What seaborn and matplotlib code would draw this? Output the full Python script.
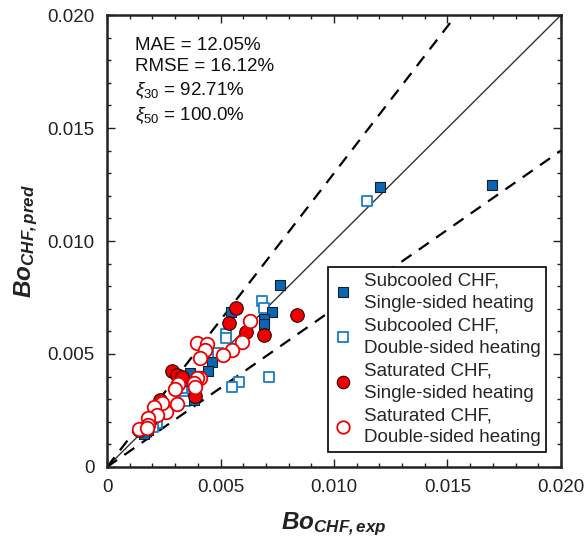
import numpy as np
import pandas as pd
import seaborn as sns
import matplotlib
matplotlib.use("Agg")
import matplotlib.pyplot as plt
from matplotlib.ticker import MultipleLocator, FuncFormatter
from matplotlib.lines import Line2D

sns.set_theme(style="ticks")
plt.rcParams['font.family'] = ['Liberation Sans', 'DejaVu Sans']
plt.rcParams['mathtext.fontset'] = 'custom'
plt.rcParams['mathtext.rm'] = 'Liberation Sans'
plt.rcParams['mathtext.it'] = 'Liberation Sans:italic'
plt.rcParams['mathtext.bf'] = 'Liberation Sans:bold'
plt.rcParams['mathtext.bfit'] = 'Liberation Sans:bold:italic'

# ---- data ----
sub_single_exp = [0.01696, 0.01203, 0.00762, 0.00546, 0.00727, 0.00692, 0.00692, 0.00463,
                  0.00445, 0.00366, 0.00383, 0.00330, 0.00163, 0.00180]
sub_single_pred = [0.01248, 0.01239, 0.00805, 0.00686, 0.00686, 0.00655, 0.00633, 0.00465,
                   0.00425, 0.00416, 0.00296, 0.00380, 0.00146, 0.00165]

sub_double_exp = [0.01145, 0.00683, 0.00692, 0.00524, 0.00524, 0.00489, 0.00714, 0.00581,
                  0.00551, 0.00335, 0.00344, 0.00330, 0.00220, 0.00203, 0.00167]
sub_double_pred = [0.01177, 0.00735, 0.00704, 0.00588, 0.00571, 0.00504, 0.00398, 0.00376,
                   0.00354, 0.00319, 0.00292, 0.00350, 0.00195, 0.00177, 0.00155]

sat_single_exp = [0.00837, 0.00568, 0.00537, 0.00612, 0.00692, 0.00286, 0.00308, 0.00330,
                  0.00388, 0.00233, 0.00141, 0.00190]
sat_single_pred = [0.00673, 0.00704, 0.00637, 0.00597, 0.00584, 0.00425, 0.00407, 0.00398,
                   0.00314, 0.00296, 0.00164, 0.00208]

sat_double_exp = [0.00630, 0.00595, 0.00550, 0.00511, 0.00396, 0.00441, 0.00432, 0.00410,
                  0.00410, 0.00396, 0.00383, 0.00313, 0.00300, 0.00308, 0.00260, 0.00242,
                  0.00207, 0.00220, 0.00181, 0.00181, 0.00141, 0.00176, 0.00388]
sat_double_pred = [0.00646, 0.00553, 0.00518, 0.00496, 0.00549, 0.00544, 0.00518, 0.00482,
                   0.00394, 0.00394, 0.00372, 0.00367, 0.00345, 0.00279, 0.00243, 0.00283,
                   0.00265, 0.00230, 0.00217, 0.00186, 0.00168, 0.00173, 0.00354]

labels = ["Subcooled CHF,\nSingle-sided heating",
          "Subcooled CHF,\nDouble-sided heating",
          "Saturated CHF,\nSingle-sided heating",
          "Saturated CHF,\nDouble-sided heating"]

stats_text = ["MAE = 12.05%", "RMSE = 16.12%",
              r"$\xi_{\mathit{30}}$ = 92.71%", r"$\xi_{\mathit{50}}$ = 100.0%"]

lim = 0.020
band = 0.30

fig = plt.figure(figsize=(5.87, 5.40), dpi=100)
ax = fig.add_axes([0.1823, 0.1352, 0.7734, 0.8370])

# reference lines
xs = np.array([0.0, lim])
ax.plot(xs, xs, color='#333333', lw=1.0, zorder=1)
ax.plot(xs, xs * (1 + band), color='black', lw=1.6, ls=(0, (5.5, 4)), zorder=1)
ax.plot(xs, xs * (1 - band), color='black', lw=1.6, ls=(0, (5.5, 4)), zorder=1)

blue = '#0a66b0'
blue_open = '#1a7ccc'
red = '#ee0000'

def df(x, y):
    return pd.DataFrame({'x': x, 'y': y})

sns.scatterplot(data=df(sub_double_exp, sub_double_pred), x='x', y='y', ax=ax, marker='s',
                s=48, facecolor='white', edgecolor=blue_open, linewidth=1.3, zorder=3)
sns.scatterplot(data=df(sub_single_exp, sub_single_pred), x='x', y='y', ax=ax, marker='s',
                s=52, color=blue, edgecolor='#102030', linewidth=0.8, zorder=3)
sns.scatterplot(data=df(sat_single_exp, sat_single_pred), x='x', y='y', ax=ax, marker='o',
                s=95, color=red, edgecolor='#300000', linewidth=0.8, zorder=4)
sns.scatterplot(data=df(sat_double_exp, sat_double_pred), x='x', y='y', ax=ax, marker='o',
                s=95, facecolor='white', edgecolor=red, linewidth=1.3, zorder=4)

ax.set_xlim(0, lim)
ax.set_ylim(0, lim)
ax.xaxis.set_major_locator(MultipleLocator(0.005))
ax.yaxis.set_major_locator(MultipleLocator(0.005))
ax.xaxis.set_minor_locator(MultipleLocator(0.001))
ax.yaxis.set_minor_locator(MultipleLocator(0.001))
fmt = FuncFormatter(lambda v, p: "0" if abs(v) < 1e-12 else f"{v:.3f}")
ax.xaxis.set_major_formatter(fmt)
ax.yaxis.set_major_formatter(fmt)
ax.tick_params(which='both', direction='in', top=True, right=True, colors='#222222',
               labelcolor='#222222', width=1.0)
ax.tick_params(which='major', length=6, labelsize=13.5, pad=9)
ax.tick_params(which='minor', length=3)
for sp in ax.spines.values():
    sp.set_linewidth(1.8)
    sp.set_color('#222222')

ax.set_xlabel(r"$\mathbfit{Bo}_{\mathbfit{CHF,exp}}$", fontsize=17.5, labelpad=10, color='#222222')
ax.set_ylabel(r"$\mathbfit{Bo}_{\mathbfit{CHF,pred}}$", fontsize=17.5, labelpad=5, color='#222222')

ax.text(0.062, 0.952, "\n".join(stats_text), transform=ax.transAxes, fontsize=13.5,
        va='top', ha='left', linespacing=1.33, color='#111111')

handles = [
    Line2D([], [], ls='none', marker='s', ms=7, mfc=blue, mec='#102030', mew=0.8),
    Line2D([], [], ls='none', marker='s', ms=7, mfc='white', mec=blue_open, mew=1.3),
    Line2D([], [], ls='none', marker='o', ms=9, mfc=red, mec='#300000', mew=0.8),
    Line2D([], [], ls='none', marker='o', ms=9, mfc='white', mec=red, mew=1.3),
]
leg = ax.legend(handles, labels, loc='lower right', bbox_to_anchor=(0.968, 0.033),
                fontsize=13.5, frameon=True, fancybox=False, framealpha=1,
                edgecolor='black', handlelength=1.0, handletextpad=0.6,
                labelspacing=0.3, borderpad=0.3, borderaxespad=0)
leg.get_frame().set_linewidth(1.2)
leg.set_zorder(10)
for t in leg.get_texts():
    t.set_linespacing(1.4)

fig.savefig("out.png", dpi=100)
